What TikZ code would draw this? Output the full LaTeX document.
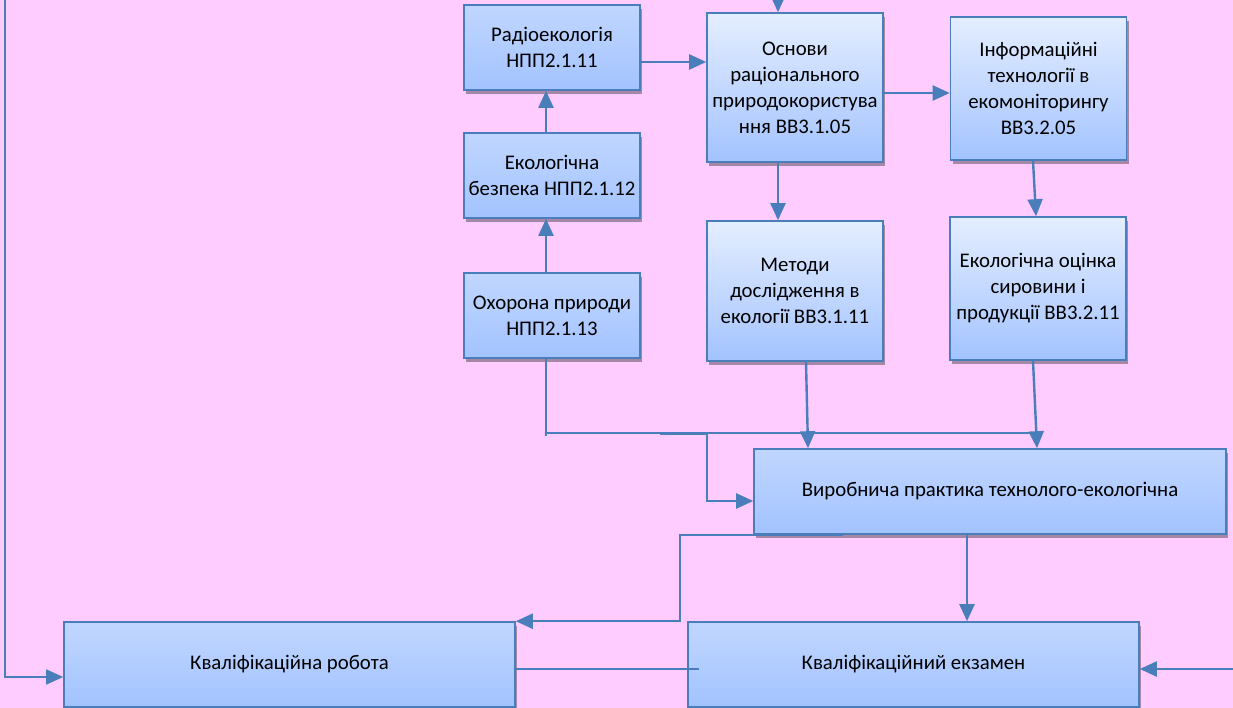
\documentclass[tikz,border=0pt]{standalone}
\usepackage{fontspec}
\setmainfont{Carlito}
\usetikzlibrary{arrows.meta,shadows}
\definecolor{bgpink}{RGB}{255,204,255}
\definecolor{edge}{RGB}{74,126,187}
\definecolor{boxtop}{RGB}{192,214,255}
\definecolor{boxtall}{RGB}{228,238,255}
\definecolor{boxbot}{RGB}{163,195,255}
\definecolor{shade}{RGB}{166,136,166}
\begin{document}
\begin{tikzpicture}[x=1pt,y=-1pt,
  box/.style={draw=edge,line width=1.6pt,top color=boxtop,bottom color=boxbot,
    drop shadow={shadow xshift=2pt,shadow yshift=-4pt,fill=shade,opacity=1},
    minimum width=176pt,minimum height=85pt,align=center,inner sep=1pt,
    font=\fontsize{20.8}{26}\selectfont},
  tallbox/.style={box,top color=boxtall},
  widebox/.style={box,minimum width=451pt},
  conn/.style={draw=edge,line width=2.4pt,-{Triangle[length=17pt,width=15pt]}},
  wire/.style={draw=edge,line width=2pt}]
\fill[bgpink] (0,0) rectangle (1233,708);
\useasboundingbox (0,0) rectangle (1233,708);
\node[box] (rad) at (552,47.5) {Радіоекологія\\НПП2.1.11};
\node[box] (bez) at (552,175.5) {Екологічна\\безпека НПП2.1.12};
\node[box] (oxo) at (552,315.5) {Охорона природи\\НПП2.1.13};
\node[tallbox,minimum height=149pt] (osn) at (795,87.5) {Основи\\раціонального\\природокористува\\ння ВВ3.1.05};
\node[tallbox,minimum height=143pt] (inf) at (1038.5,88.5) {Інформаційні\\технології в\\екомоніторингу\\ВВ3.2.05};
\node[tallbox,minimum height=140pt] (met) at (795,291) {Методи\\дослідження в\\екології ВВ3.1.11};
\node[tallbox,minimum height=143pt] (ocin) at (1038,288.5) {Екологічна оцінка\\сировини і\\продукції ВВ3.2.11};
\node[box,minimum width=472pt] (vyr) at (990,491.5) {Виробнича практика технолого-екологічна};
\node[widebox,drop shadow={opacity=0}] (rob) at (289.5,664.5) {Кваліфікаційна робота};
\node[widebox,drop shadow={opacity=0}] (ekz) at (913.5,664.5) {Кваліфікаційний екзамен};
\coordinate (topin) at (778,0);
\coordinate (bus) at (546,433);
\coordinate (rin) at (1233,669);
\coordinate (ltop) at (5,0);
\draw[conn] (topin) -- (topin |- osn.north);
\draw[conn] ([yshift=-14.5pt]rad.east) -- ([yshift=-14.5pt]rad.east -| osn.west);
\draw[conn] ([xshift=-6pt]bez.north) -- ([xshift=-6pt]rad.south);
\draw[conn] ([xshift=-6pt]oxo.north) -- ([xshift=-6pt]bez.south);
\draw[conn] ([yshift=-5.5pt]osn.east) -- ([yshift=-5.5pt]osn.east -| inf.west);
\draw[conn] ([xshift=-17pt]osn.south) -- ([xshift=-17pt]osn.south |- met.north);
\draw[conn] ([xshift=-5.5pt]inf.south) -- ([xshift=-2pt]ocin.north);
\draw[conn] ([xshift=11pt]met.south) -- ([xshift=-182pt]vyr.north);
\draw[conn] ([xshift=-5pt]ocin.south) -- ([xshift=47pt]vyr.north);
\draw[wire] ([xshift=-6pt]oxo.south) -- ([yshift=-3pt]bus);
\draw[wire] (bus) -- (1036,433);
\draw[wire,line width=3pt] (660,433) -- (707,433);
\draw[conn] (707,433) |- ([yshift=-9.5pt]vyr.west);
\draw[conn] ([xshift=-147pt]vyr.south) -- ++(-163,0) |- (rob.north east);
\draw[conn] ([xshift=-23pt]vyr.south) -- ([xshift=-23pt]vyr.south |- ekz.north);
\draw[wire,line width=1.6pt] ([yshift=-4.5pt]rob.east) -- ([xshift=12pt,yshift=-4.5pt]ekz.west);
\draw[conn] (rin) -- (rin -| ekz.east);
\draw[conn,line width=1.8pt] (ltop) |- ([yshift=-12.5pt]rob.west);
\end{tikzpicture}
\end{document}
